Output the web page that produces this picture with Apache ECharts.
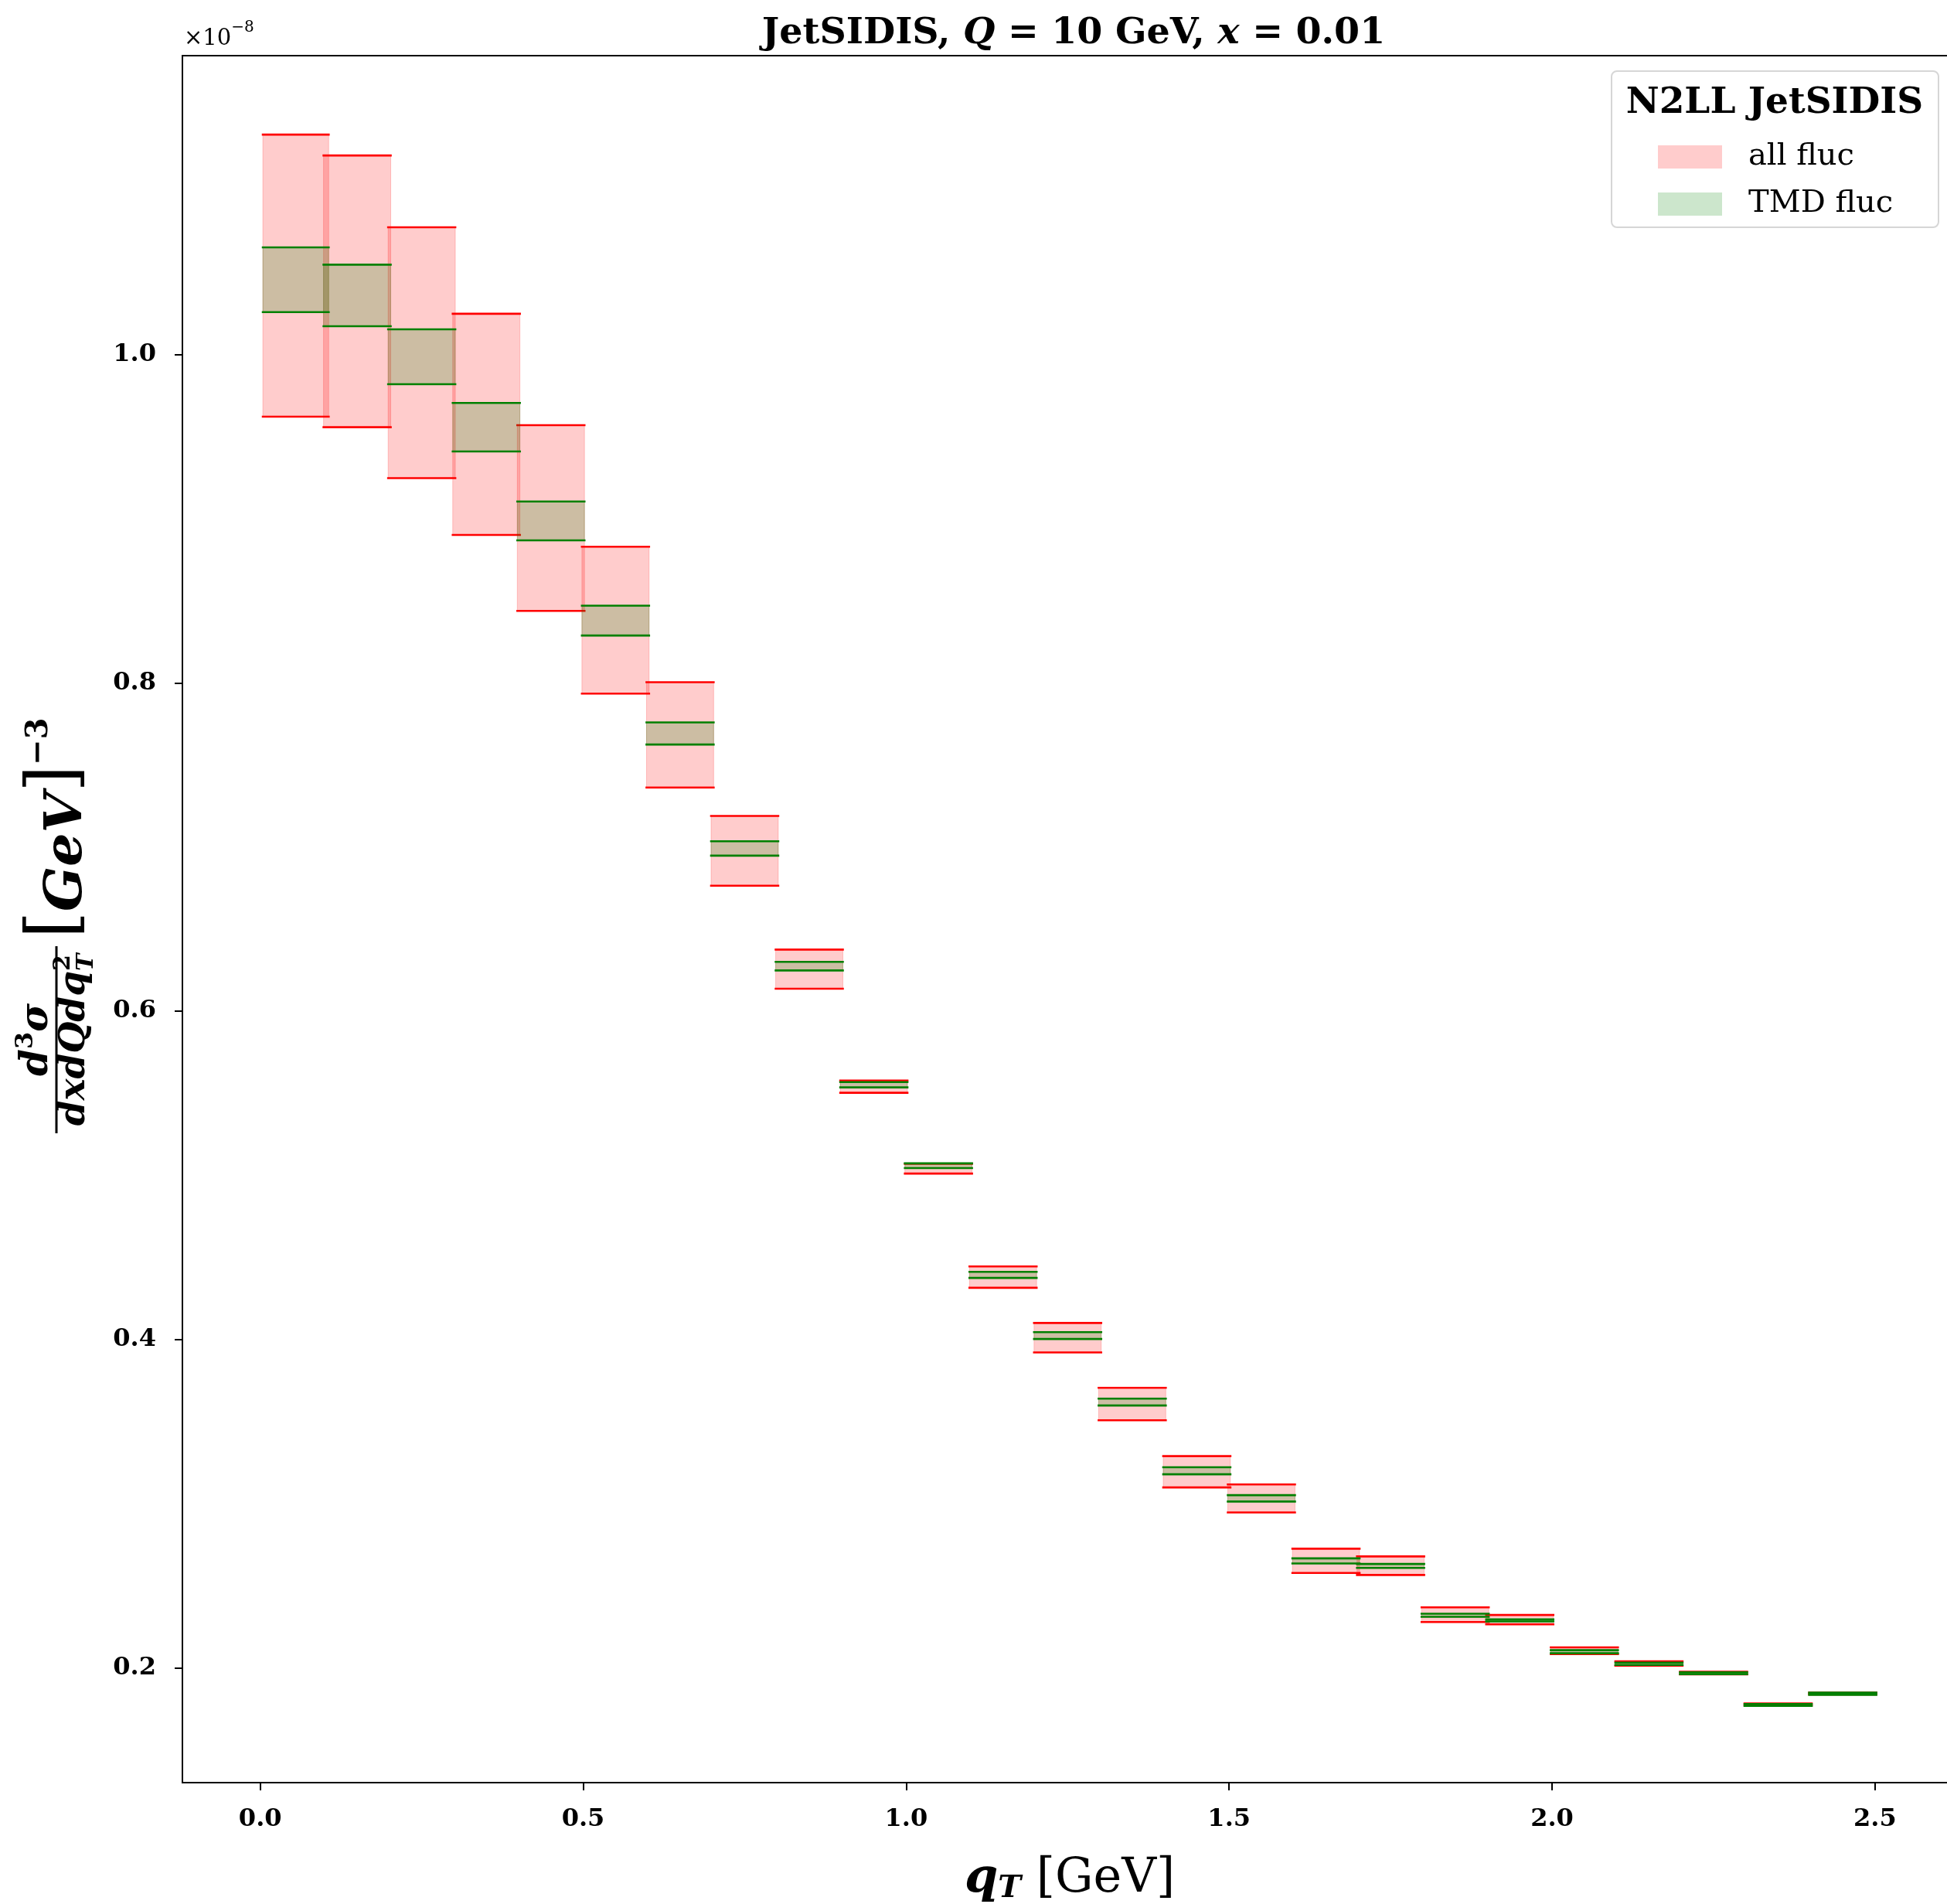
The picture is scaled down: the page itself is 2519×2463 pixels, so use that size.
<!DOCTYPE html>
<html><head><meta charset="utf-8">
<script src="https://cdn.jsdelivr.net/npm/echarts@6/dist/echarts.min.js"></script>
<style>html,body{margin:0;padding:0;background:#fff}#c{width:2519px;height:2463px}</style>
</head><body><div id="c"></div>
<script>
// ---- data (values in units of 1e-8) ----
const binLo = [0.004,0.098,0.198,0.298,0.398,0.498,0.598,0.698,0.798,0.898,0.998,1.098,1.198,1.298,1.398,1.498,1.598,1.698,1.798,1.898,1.998,2.098,2.198,2.298,2.398];
const binHi = [0.106,0.202,0.302,0.402,0.502,0.602,0.702,0.802,0.902,1.002,1.102,1.202,1.302,1.402,1.502,1.602,1.702,1.802,1.902,2.002,2.102,2.202,2.302,2.402,2.502];
const allHi = [1.1339,1.1212,1.0775,1.0248,0.9569,0.8829,0.8004,0.7189,0.6375,0.5577,0.5070,0.4445,0.4101,0.3706,0.3290,0.3117,0.2726,0.2679,0.2369,0.2322,0.2125,0.2040,0.1977,0.1783,0.1849];
const allLo = [0.9621,0.9557,0.9247,0.8901,0.8438,0.7934,0.7362,0.6764,0.6137,0.5503,0.5011,0.4315,0.3921,0.3508,0.3099,0.2947,0.2578,0.2566,0.2279,0.2265,0.2084,0.2013,0.1960,0.1771,0.1838];
const tmdHi = [1.0652,1.0547,1.0153,0.9705,0.9104,0.8470,0.7759,0.7035,0.6300,0.5568,0.5073,0.4412,0.4045,0.3640,0.3222,0.3052,0.2667,0.2633,0.2330,0.2295,0.2108,0.2032,0.1973,0.1780,0.1849];
const tmdLo = [1.0258,1.0172,0.9819,0.9409,0.8868,0.8288,0.7624,0.6947,0.6248,0.5536,0.5044,0.4375,0.4003,0.3598,0.3179,0.3013,0.2636,0.2609,0.2311,0.2283,0.2089,0.2018,0.1962,0.1769,0.1836];
const xTicks = [0.0,0.5,1.0,1.5,2.0,2.5];
const yTicks = [0.2,0.4,0.6,0.8,1.0];
const seriesNames = ['all fluc','TMD fluc'];
const legendTitle = 'N2LL JetSIDIS';

// ---- helpers ----
const SERIF = '"DejaVu Serif"';
const mctx = document.createElement('canvas').getContext('2d');
function fnt(p){ return (p.it?'italic ':'') + (p.b?'bold ':'') + p.s + 'px ' + SERIF; }
function tw(p){ mctx.font = fnt(p); return mctx.measureText(p.t).width; }
function layout(pieces, x0, base){
  let x = x0; const els = [];
  let pendingAdv = 0;
  pieces.forEach(p => {
    const w = tw(p);
    els.push({type:'text', x: x, y: base + (p.dy||0) - 0.35*p.s,
      style:{text:p.t, font:fnt(p), fill:'#000', textAlign:'left', textVerticalAlign:'middle'}});
    if (p.stack) { pendingAdv = Math.max(pendingAdv, w); }
    else { x += Math.max(w, pendingAdv); pendingAdv = 0; }
  });
  return {els, width: x - x0};
}
function width(pieces){ return layout(pieces,0,0).width; }

// ---- y axis label (rotated group) ----
const numP = [{t:'d',it:1,b:1,s:50},{t:'3',b:1,s:32,dy:-21},{t:'σ',it:1,b:1,s:50}];
const denP = [{t:'dxdQdq',it:1,b:1,s:47},{t:'2',b:1,s:30,dy:-20,stack:1},{t:'T',it:1,b:1,s:30,dy:10}];
const fracLen = 242, fracC = fracLen/2;
const numL = layout(numP, fracC - width(numP)/2, -7);
const denL = layout(denP, fracC - width(denP)/2, 40);
const gevP = [{t:'[',s:90},{t:'GeV',it:1,b:1,s:68,dy:6},{t:']',s:90},{t:'−3',b:1,s:40,dy:-40}];
const gevL = layout(gevP, 252, 32);
const yLabelGroup = {
  type:'group', x: 73, y: 1466, rotation: Math.PI/2, z: 5,
  children: [
    {type:'line', shape:{x1:0,y1:0,x2:fracLen,y2:0}, style:{stroke:'#000', lineWidth:3}},
    ...numL.els, ...denL.els, ...gevL.els
  ]
};

// ---- x10^-8 ----
const expL = layout([{t:'×10',s:29},{t:'−8',s:20,dy:-18}], 238, 61);

// ---- band series ----
function bandSeries(name, loArr, hiArr, fill, stroke, z){
  return {
    type:'custom', name, z, itemStyle:{color: fill},
    data: binLo.map((l,i)=>[l, binHi[i], loArr[i], hiArr[i]]),
    encode:{x:[0,1], y:[2,3]},
    renderItem(params, api){
      const p0 = api.coord([api.value(0), api.value(3)]);
      const p1 = api.coord([api.value(1), api.value(2)]);
      return {type:'group', children:[
        {type:'rect', shape:{x:p0[0], y:p0[1], width:p1[0]-p0[0], height:p1[1]-p0[1]},
          style:{fill: fill, stroke: fill, lineWidth: 1}},
        {type:'line', shape:{x1:p0[0], y1:p0[1], x2:p1[0], y2:p0[1]}, style:{stroke, lineWidth:2.6, lineCap:'square'}},
        {type:'line', shape:{x1:p0[0], y1:p1[1], x2:p1[0], y2:p1[1]}, style:{stroke, lineWidth:2.6, lineCap:'square'}}
      ]};
    }
  };
}

const tickFont = {fontFamily:'DejaVu Serif', fontWeight:'bold', fontSize:32, color:'#000'};
const chart = echarts.init(document.getElementById('c'), null, {renderer:'canvas'});
chart.setOption({
  animation:false,
  backgroundColor:'#fff',
  title:{
    text:'{b|JetSIDIS, }{i|Q}{b| = 10 GeV, }{i|x}{b| = 0.01}',
    left:1384, top:15, textAlign:'center',
    textStyle:{rich:{
      b:{fontFamily:'DejaVu Serif', fontWeight:'bold', fontSize:47.5, color:'#000'},
      i:{fontFamily:'DejaVu Serif', fontWeight:'bold', fontStyle:'italic', fontSize:47.5, color:'#000'}
    }}
  },
  grid:{left:236, top:72, right:-13, bottom:157, containLabel:false, outerBoundsMode:'none',
    show:true, borderColor:'#000', borderWidth:2, backgroundColor:'transparent'},
  xAxis:{
    type:'value', min:-0.1205, max:2.627,
    axisLine:{show:true, onZero:false, lineStyle:{color:'#000', width:2}},
    axisTick:{show:true, customValues:xTicks, length:10, lineStyle:{color:'#000', width:2}},
    axisLabel:{customValues:xTicks, formatter:v=>v.toFixed(1), margin:32, ...tickFont},
    splitLine:{show:false},
    name:'{q|q}{t|T}{g| [GeV]}', nameLocation:'middle', nameGap:92,
    nameTextStyle:{rich:{
      q:{fontFamily:'DejaVu Serif', fontWeight:'bold', fontStyle:'italic', fontSize:62, color:'#000'},
      t:{fontFamily:'DejaVu Serif', fontWeight:'bold', fontStyle:'italic', fontSize:40, color:'#000', padding:[26,0,0,0]},
      g:{fontFamily:'DejaVu Serif', fontSize:62, color:'#000'}
    }}
  },
  yAxis:{
    type:'value', min:0.1301, max:1.182,
    axisLine:{show:true, onZero:false, lineStyle:{color:'#000', width:2}},
    axisTick:{show:true, customValues:yTicks, length:10, lineStyle:{color:'#000', width:2}},
    axisLabel:{customValues:yTicks, formatter:v=>v.toFixed(1), margin:34, ...tickFont},
    splitLine:{show:false}
  },
  legend:{
    orient:'vertical', left:2140, top:178, itemWidth:83, itemHeight:30, itemGap:21,
    icon:'rect', selectedMode:false, z:20,
    textStyle:{fontFamily:'DejaVu Serif', fontSize:40, color:'#000', padding:[0,0,0,29]},
    data:[
      {name:seriesNames[0], itemStyle:{color:'rgba(255,0,0,0.2)'}},
      {name:seriesNames[1], itemStyle:{color:'rgba(0,128,0,0.2)'}}
    ]
  },
  graphic:[
    {type:'rect', x:2085, y:92, z:15, shape:{width:423, height:202, r:7},
      style:{fill:'rgba(255,255,255,0.8)', stroke:'rgba(204,204,204,0.8)', lineWidth:2}},
    {type:'text', x:2296, y:134, z:16, style:{text:legendTitle, font:'bold 47px "DejaVu Serif"', fill:'#000', textAlign:'center', textVerticalAlign:'middle'}},
    yLabelGroup,
    {type:'group', z:5, children: expL.els}
  ],
  series:[
    bandSeries(seriesNames[0], allLo, allHi, 'rgba(255,0,0,0.2)', '#ff0000', 2),
    bandSeries(seriesNames[1], tmdLo, tmdHi, 'rgba(0,128,0,0.2)', '#008000', 3)
  ]
});
</script></body></html>
